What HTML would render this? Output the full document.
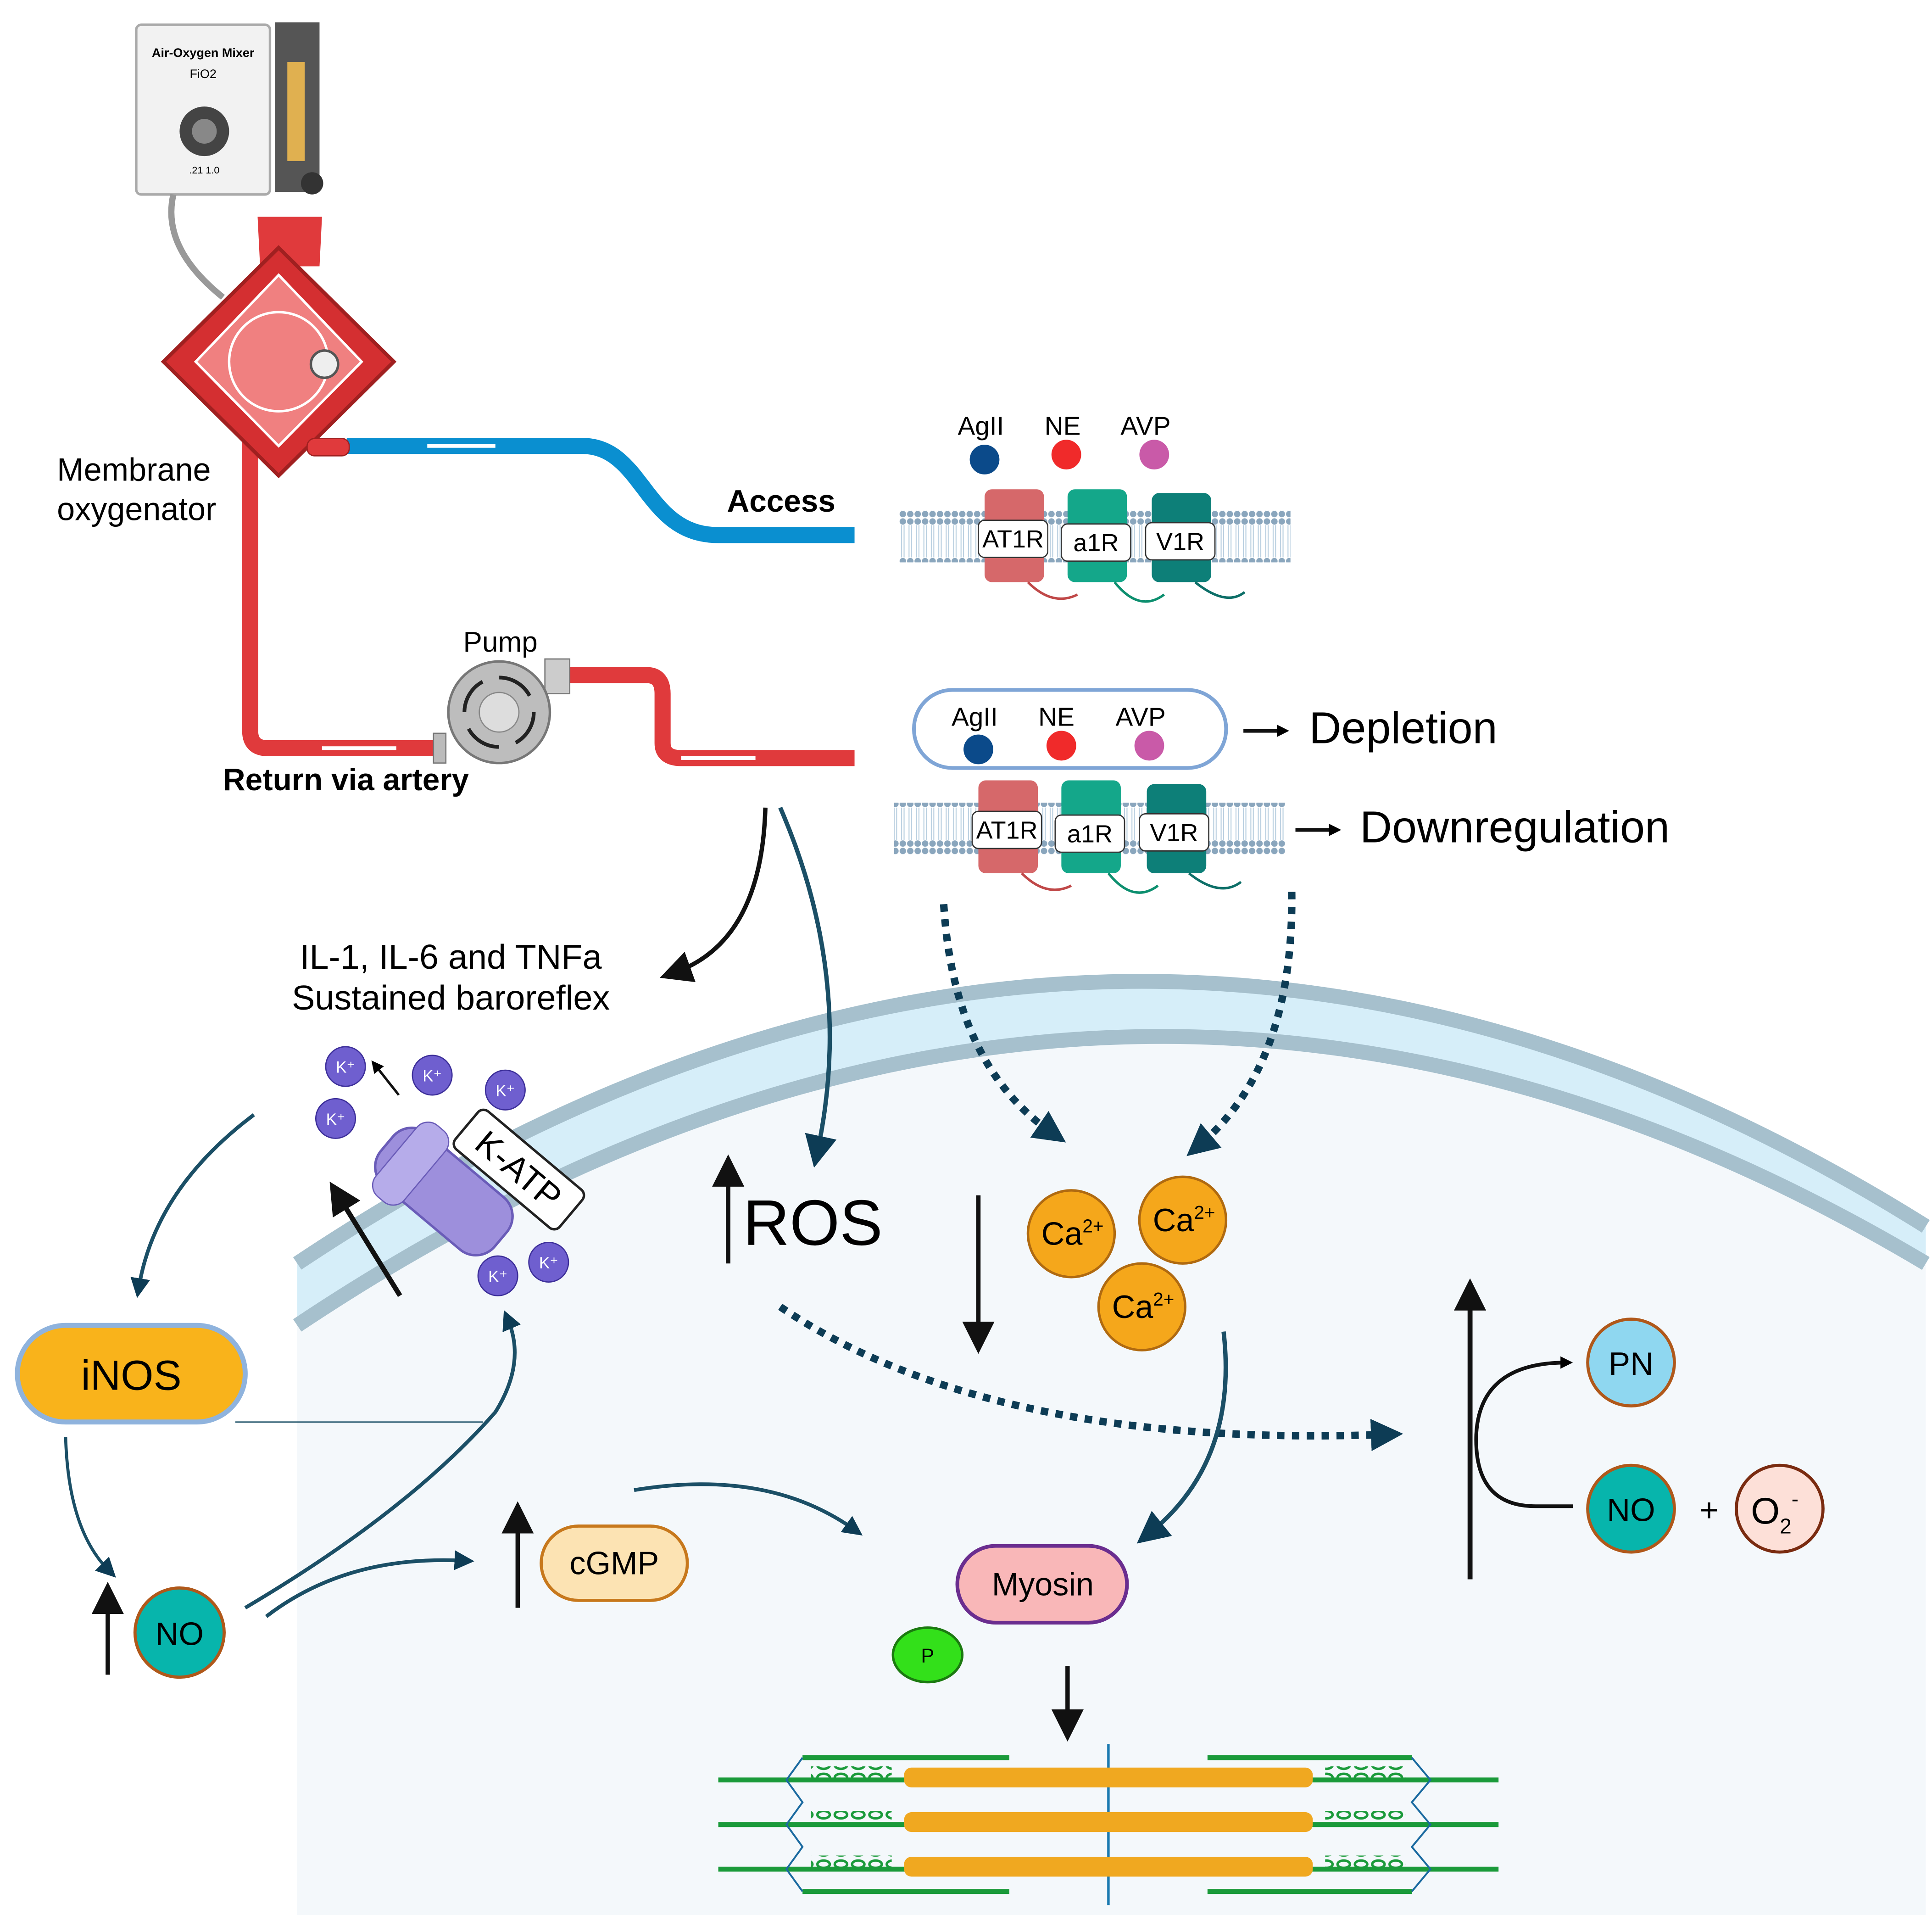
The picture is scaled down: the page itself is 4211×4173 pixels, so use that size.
<!DOCTYPE html>
<html><head><meta charset="utf-8"><style>
html,body{margin:0;padding:0;background:#fff;}
svg{display:block;}
text{font-family:"Liberation Sans",sans-serif;}
</style></head><body>
<svg width="4211" height="4173" viewBox="0 0 1560 1546" preserveAspectRatio="none" xmlns="http://www.w3.org/2000/svg">
<defs>
<marker id="ah" markerWidth="10" markerHeight="10" refX="5" refY="5" orient="auto" markerUnits="userSpaceOnUse" viewBox="0 0 10 10"><path d="M0,0 L10,5 L0,10 Z" fill="#000"/></marker>
<marker id="ahb" viewBox="0 0 10 10" refX="5" refY="5" markerWidth="26" markerHeight="26" orient="auto" markerUnits="userSpaceOnUse"><path d="M0,0 L10,5 L0,10 Z" fill="#0d3c55"/></marker>
<marker id="ahk" viewBox="0 0 10 10" refX="5" refY="5" markerWidth="26" markerHeight="26" orient="auto" markerUnits="userSpaceOnUse"><path d="M0,0 L10,5 L0,10 Z" fill="#111"/></marker>
<marker id="ahs" viewBox="0 0 10 10" refX="5" refY="5" markerWidth="16" markerHeight="16" orient="auto" markerUnits="userSpaceOnUse"><path d="M0,0 L10,5 L0,10 Z" fill="#0d3c55"/></marker>
<pattern id="lip" width="6" height="38" patternUnits="userSpaceOnUse"><circle cx="3" cy="3" r="2.6" fill="#8aa6bd"/><circle cx="3" cy="35" r="2.6" fill="#8aa6bd"/><line x1="2" y1="6" x2="2" y2="32" stroke="#b9cfe0" stroke-width="0.8"/><line x1="4" y1="6" x2="4" y2="32" stroke="#b9cfe0" stroke-width="0.8"/></pattern>
<pattern id="sar" width="14" height="10" patternUnits="userSpaceOnUse"><ellipse cx="7" cy="5" rx="5" ry="3" fill="none" stroke="#1a9a3a" stroke-width="2"/></pattern>
</defs>

<!-- cell -->
<path d="M240,1070 Q900,630 1555,1020 L1555,1546 L240,1546 Z" fill="#f4f8fb"/>
<path d="M240,1020 Q900,580 1555,990 L1555,1020 Q900,630 240,1070 Z" fill="#d6eef9"/>
<path d="M240,1020 Q900,580 1555,990" fill="none" stroke="#a6c0cd" stroke-width="12"/>
<path d="M240,1070 Q900,630 1555,1020" fill="none" stroke="#a6c0cd" stroke-width="12"/>

<!-- mixer -->
<rect x="110" y="20" width="108" height="137" rx="4" fill="#f2f2f2" stroke="#aaa" stroke-width="2"/>
<text x="164" y="46" font-size="10" font-weight="bold" text-anchor="middle">Air-Oxygen Mixer</text>
<text x="164" y="63" font-size="10" text-anchor="middle">FiO2</text>
<circle cx="165" cy="106" r="20" fill="#444"/><circle cx="165" cy="106" r="10" fill="#888"/>
<text x="165" y="140" font-size="8" text-anchor="middle">.21    1.0</text>
<rect x="222" y="18" width="36" height="137" fill="#555"/><rect x="232" y="50" width="14" height="80" fill="#e0b050"/>
<circle cx="252" cy="148" r="9" fill="#333"/>
<path d="M140,157 Q130,200 180,240" fill="none" stroke="#999" stroke-width="5"/>

<!-- tubes -->
<path d="M280,360 L470,360 C520,360 520,432 580,432 L690,432" fill="none" stroke="#0a8fd0" stroke-width="13"/>
<line x1="345" y1="360" x2="400" y2="360" stroke="#fff" stroke-width="3"/>
<path d="M202,355 L202,590 Q202,604 216,604 L352,604" fill="none" stroke="#e03a3c" stroke-width="13"/>
<line x1="260" y1="604" x2="320" y2="604" stroke="#fff" stroke-width="3"/>
<path d="M455,545 L522,545 Q535,545 535,560 L535,600 Q535,612 550,612 L690,612" fill="none" stroke="#e03a3c" stroke-width="13"/>
<line x1="550" y1="612" x2="610" y2="612" stroke="#fff" stroke-width="3"/>

<!-- oxygenator -->
<path d="M208,175 L260,175 L258,215 L210,215 Z" fill="#e03a3c"/>
<path d="M225,200 L318,292 L225,384 L132,292 Z" fill="#d42f31" stroke="#a02020" stroke-width="3"/>
<path d="M225,222 L292,292 L225,360 L158,292 Z" fill="#f08080" stroke="#fff" stroke-width="2"/>
<ellipse cx="225" cy="292" rx="40" ry="40" fill="none" stroke="#fff" stroke-width="2"/>
<circle cx="262" cy="294" r="11" fill="#eee" stroke="#555" stroke-width="2"/>
<rect x="248" y="354" width="34" height="14" rx="6" fill="#e03a3c" stroke="#a02020"/>

<text x="46" y="388" font-size="26">Membrane</text>
<text x="46" y="420" font-size="26">oxygenator</text>
<text x="587" y="413" font-size="25" font-weight="bold">Access</text>
<text x="374" y="526" font-size="23">Pump</text>
<text x="180" y="638" font-size="25" font-weight="bold">Return via artery</text>

<!-- pump -->
<rect x="350" y="592" width="10" height="24" fill="#bbb" stroke="#777"/>
<rect x="440" y="532" width="20" height="28" fill="#ccc" stroke="#777"/>
<circle cx="403" cy="575" r="41" fill="#bdbdbd" stroke="#777" stroke-width="2"/>
<circle cx="403" cy="575" r="28" fill="none" stroke="#222" stroke-width="3" stroke-dasharray="30 14"/>
<circle cx="403" cy="575" r="16" fill="#ddd" stroke="#888"/>

<!-- receptors top -->
<text x="792" y="351" font-size="21" text-anchor="middle">AgII</text>
<text x="858" y="351" font-size="21" text-anchor="middle">NE</text>
<text x="925" y="351" font-size="21" text-anchor="middle">AVP</text>
<circle cx="795" cy="371" r="12" fill="#0b4a8a"/><circle cx="861" cy="367" r="12" fill="#f02a2a"/><circle cx="932" cy="367" r="12" fill="#c95aa8"/>
<rect x="726" y="412" width="316" height="42" fill="url(#lip)"/>
<g>
<rect x="795" y="395" width="48" height="75" rx="6" fill="#d6686a"/>
<rect x="862" y="395" width="48" height="75" rx="6" fill="#14a78a"/>
<rect x="930" y="398" width="48" height="72" rx="6" fill="#0d7f78"/>
<path d="M830,470 Q850,490 870,480" fill="none" stroke="#c04848" stroke-width="2"/>
<path d="M900,470 Q920,495 940,480" fill="none" stroke="#0d8f6f" stroke-width="2"/>
<path d="M965,470 Q990,490 1005,478" fill="none" stroke="#0d6f68" stroke-width="2"/>
<rect x="790" y="420" width="56" height="30" rx="5" fill="#fff" stroke="#333"/><text x="818" y="442" font-size="20" text-anchor="middle">AT1R</text>
<rect x="857" y="423" width="56" height="30" rx="5" fill="#fff" stroke="#333"/><text x="885" y="445" font-size="20" text-anchor="middle">a1R</text>
<rect x="925" y="422" width="56" height="30" rx="5" fill="#fff" stroke="#333"/><text x="953" y="444" font-size="20" text-anchor="middle">V1R</text>
</g>

<!-- receptors bottom -->
<rect x="738" y="557" width="252" height="63" rx="31" fill="#fff" stroke="#7fa5d6" stroke-width="3"/>
<text x="787" y="586" font-size="21" text-anchor="middle">AgII</text>
<text x="853" y="586" font-size="21" text-anchor="middle">NE</text>
<text x="921" y="586" font-size="21" text-anchor="middle">AVP</text>
<circle cx="790" cy="605" r="12" fill="#0b4a8a"/><circle cx="857" cy="602" r="12" fill="#f02a2a"/><circle cx="928" cy="602" r="12" fill="#c95aa8"/>
<rect x="722" y="648" width="316" height="42" fill="url(#lip)"/>
<rect x="790" y="630" width="48" height="75" rx="6" fill="#d6686a"/>
<rect x="857" y="630" width="48" height="75" rx="6" fill="#14a78a"/>
<rect x="926" y="633" width="48" height="72" rx="6" fill="#0d7f78"/>
<path d="M825,705 Q845,725 865,715" fill="none" stroke="#c04848" stroke-width="2"/>
<path d="M895,705 Q915,730 935,715" fill="none" stroke="#0d8f6f" stroke-width="2"/>
<path d="M960,705 Q985,725 1002,712" fill="none" stroke="#0d6f68" stroke-width="2"/>
<rect x="785" y="655" width="56" height="30" rx="5" fill="#fff" stroke="#333"/><text x="813" y="677" font-size="20" text-anchor="middle">AT1R</text>
<rect x="852" y="658" width="56" height="30" rx="5" fill="#fff" stroke="#333"/><text x="880" y="680" font-size="20" text-anchor="middle">a1R</text>
<rect x="920" y="657" width="56" height="30" rx="5" fill="#fff" stroke="#333"/><text x="948" y="679" font-size="20" text-anchor="middle">V1R</text>

<line x1="1004" y1="590" x2="1036" y2="590" stroke="#111" stroke-width="3" marker-end="url(#ah)"/>
<text x="1057" y="600" font-size="36">Depletion</text>
<line x1="1046" y1="670" x2="1078" y2="670" stroke="#111" stroke-width="3" marker-end="url(#ah)"/>
<text x="1098" y="680" font-size="36">Downregulation</text>

<!-- arrows from tube -->
<path d="M618,652 Q615,760 545,785" fill="none" stroke="#111" stroke-width="3.5" marker-end="url(#ahk)"/>
<path d="M630,652 Q690,790 660,930" fill="none" stroke="#1b4f66" stroke-width="3.5" marker-end="url(#ahb)"/>
<path d="M762,730 Q770,860 850,915" fill="none" stroke="#0d3c55" stroke-width="6" stroke-dasharray="6 6" marker-end="url(#ahb)"/>
<path d="M1043,720 Q1045,860 968,925" fill="none" stroke="#0d3c55" stroke-width="6" stroke-dasharray="6 6" marker-end="url(#ahb)"/>

<text x="364" y="782" font-size="28" text-anchor="middle">IL-1, IL-6 and TNFa</text>
<text x="364" y="815" font-size="28" text-anchor="middle">Sustained baroreflex</text>

<!-- K-ATP -->
<g transform="rotate(40 360 960)">
<rect x="300" y="935" width="120" height="55" rx="20" fill="#9d8fdc" stroke="#6a5cb8" stroke-width="2"/>
<rect x="310" y="925" width="30" height="75" rx="12" fill="#b6acea" stroke="#6a5cb8"/>
<rect x="340" y="890" width="110" height="40" rx="6" fill="#fff" stroke="#222" stroke-width="2"/>
<text x="395" y="920" font-size="28" text-anchor="middle" transform="rotate(0)">K-ATP</text>
</g>
<g font-size="13" fill="#fff" text-anchor="middle">
<circle cx="279" cy="861" r="16" fill="#6f5fcf" stroke="#3d2f9a"/><text x="279" y="866">K⁺</text>
<circle cx="349" cy="868" r="16" fill="#6f5fcf" stroke="#3d2f9a"/><text x="349" y="873">K⁺</text>
<circle cx="408" cy="880" r="16" fill="#6f5fcf" stroke="#3d2f9a"/><text x="408" y="885">K⁺</text>
<circle cx="271" cy="903" r="16" fill="#6f5fcf" stroke="#3d2f9a"/><text x="271" y="908">K⁺</text>
<circle cx="402" cy="1030" r="16" fill="#6f5fcf" stroke="#3d2f9a"/><text x="402" y="1035">K⁺</text>
<circle cx="443" cy="1019" r="16" fill="#6f5fcf" stroke="#3d2f9a"/><text x="443" y="1024">K⁺</text>
</g>
<line x1="322" y1="884" x2="303" y2="860" stroke="#111" stroke-width="2" marker-end="url(#ah)"/>
<line x1="323" y1="1046" x2="273" y2="965" stroke="#111" stroke-width="4" marker-end="url(#ahk)"/>

<!-- ROS -->
<line x1="588" y1="1020" x2="588" y2="945" stroke="#111" stroke-width="3.5" marker-end="url(#ahk)"/>
<text x="600" y="1005" font-size="52">ROS</text>
<line x1="790" y1="965" x2="790" y2="1080" stroke="#111" stroke-width="3.5" marker-end="url(#ahk)"/>

<!-- Ca -->
<g font-size="26" text-anchor="middle">
<circle cx="865" cy="996" r="35" fill="#f5a71b" stroke="#b06a10" stroke-width="2"/><text x="866" y="1005">Ca<tspan font-size="15" dy="-10">2+</tspan></text>
<circle cx="955" cy="985" r="35" fill="#f5a71b" stroke="#b06a10" stroke-width="2"/><text x="956" y="994">Ca<tspan font-size="15" dy="-10">2+</tspan></text>
<circle cx="922" cy="1055" r="35" fill="#f5a71b" stroke="#b06a10" stroke-width="2"/><text x="923" y="1064">Ca<tspan font-size="15" dy="-10">2+</tspan></text>
</g>
<path d="M630,1055 Q800,1170 1120,1158" fill="none" stroke="#0d3c55" stroke-width="6" stroke-dasharray="6 6" marker-end="url(#ahb)"/>
<path d="M988,1075 Q1000,1180 928,1238" fill="none" stroke="#1b4f66" stroke-width="3.5" marker-end="url(#ahb)"/>

<!-- myosin -->
<rect x="773" y="1248" width="137" height="62" rx="31" fill="#f9b7b8" stroke="#6a2d8f" stroke-width="3"/>
<text x="842" y="1288" font-size="26" text-anchor="middle">Myosin</text>
<ellipse cx="749" cy="1336" rx="28" ry="22" fill="#33e01a" stroke="#1b7a10" stroke-width="2"/>
<text x="749" y="1342" font-size="16" text-anchor="middle">P</text>
<line x1="862" y1="1345" x2="862" y2="1393" stroke="#111" stroke-width="3.5" marker-end="url(#ahk)"/>

<!-- sarcomere -->
<g>
<line x1="895" y1="1408" x2="895" y2="1538" stroke="#1a7ab0" stroke-width="2"/>
<g stroke="#1a9a3a" stroke-width="4">
<line x1="580" y1="1437" x2="815" y2="1437"/><line x1="975" y1="1437" x2="1210" y2="1437"/>
<line x1="580" y1="1473" x2="815" y2="1473"/><line x1="975" y1="1473" x2="1210" y2="1473"/>
<line x1="580" y1="1509" x2="815" y2="1509"/><line x1="975" y1="1509" x2="1210" y2="1509"/>
<line x1="648" y1="1419" x2="815" y2="1419"/><line x1="975" y1="1419" x2="1140" y2="1419"/>
<line x1="648" y1="1527" x2="815" y2="1527"/><line x1="975" y1="1527" x2="1140" y2="1527"/>
</g>
<g fill="#f0a820">
<rect x="730" y="1427" width="330" height="16" rx="6"/>
<rect x="730" y="1463" width="330" height="16" rx="6"/>
<rect x="730" y="1499" width="330" height="16" rx="6"/>
</g>
<rect x="655" y="1426" width="65" height="10" fill="url(#sar)"/><rect x="1070" y="1426" width="65" height="10" fill="url(#sar)"/>
<rect x="655" y="1462" width="65" height="10" fill="url(#sar)"/><rect x="1070" y="1462" width="65" height="10" fill="url(#sar)"/>
<rect x="655" y="1498" width="65" height="10" fill="url(#sar)"/><rect x="1070" y="1498" width="65" height="10" fill="url(#sar)"/>
<path d="M648,1419 L635,1437 L648,1455 L635,1473 L648,1491 L635,1509 L648,1527 M1140,1419 L1155,1437 L1140,1455 L1155,1473 L1140,1491 L1155,1509 L1140,1527" fill="none" stroke="#1a6aa0" stroke-width="1.5"/>
</g>

<!-- iNOS & NO -->
<path d="M205,900 Q125,960 112,1040" fill="none" stroke="#1b4f66" stroke-width="3" marker-end="url(#ahs)"/>
<rect x="14" y="1070" width="184" height="78" rx="39" fill="#f9b31b" stroke="#8fb3dd" stroke-width="4"/>
<text x="106" y="1122" font-size="34" text-anchor="middle">iNOS</text>
<line x1="190" y1="1148" x2="390" y2="1148" stroke="#1b4f66" stroke-width="1"/>
<path d="M53,1160 Q55,1235 88,1268" fill="none" stroke="#1b4f66" stroke-width="2.5" marker-end="url(#ahs)"/>
<line x1="87" y1="1352" x2="87" y2="1290" stroke="#111" stroke-width="3.5" marker-end="url(#ahk)"/>
<circle cx="145" cy="1318" r="36" fill="#07b5ac" stroke="#b0581a" stroke-width="2.5"/>
<text x="145" y="1328" font-size="26" text-anchor="middle">NO</text>
<path d="M198,1298 Q330,1220 400,1140 Q425,1100 410,1065" fill="none" stroke="#1b4f66" stroke-width="3" marker-end="url(#ahs)"/>
<path d="M215,1305 Q280,1255 375,1260" fill="none" stroke="#1b4f66" stroke-width="3" marker-end="url(#ahs)"/>
<line x1="418" y1="1298" x2="418" y2="1225" stroke="#111" stroke-width="3.5" marker-end="url(#ahk)"/>
<rect x="437" y="1232" width="118" height="60" rx="30" fill="#fce3b3" stroke="#c7781c" stroke-width="2.5"/>
<text x="496" y="1271" font-size="26" text-anchor="middle">cGMP</text>
<path d="M512,1203 Q620,1185 690,1235" fill="none" stroke="#1b4f66" stroke-width="3" marker-end="url(#ahs)"/>

<!-- right -->
<line x1="1187" y1="1275" x2="1187" y2="1045" stroke="#111" stroke-width="4" marker-end="url(#ahk)"/>
<path d="M1270,1216 L1240,1216 Q1190,1216 1192,1158 Q1195,1100 1265,1100" fill="none" stroke="#111" stroke-width="3" marker-end="url(#ah)"/>
<circle cx="1317" cy="1100" r="35" fill="#8fd7f0" stroke="#b0581a" stroke-width="2.5"/>
<text x="1317" y="1110" font-size="26" text-anchor="middle">PN</text>
<circle cx="1317" cy="1218" r="35" fill="#07b5ac" stroke="#b0581a" stroke-width="2.5"/>
<text x="1317" y="1228" font-size="26" text-anchor="middle">NO</text>
<text x="1380" y="1228" font-size="26" text-anchor="middle">+</text>
<circle cx="1437" cy="1218" r="35" fill="#fde0d8" stroke="#7a2b10" stroke-width="2.5"/>
<text x="1433" y="1230" font-size="30" text-anchor="middle">O<tspan font-size="17" dy="8">2</tspan><tspan font-size="17" dy="-22">-</tspan></text>
</svg>
</body></html>
